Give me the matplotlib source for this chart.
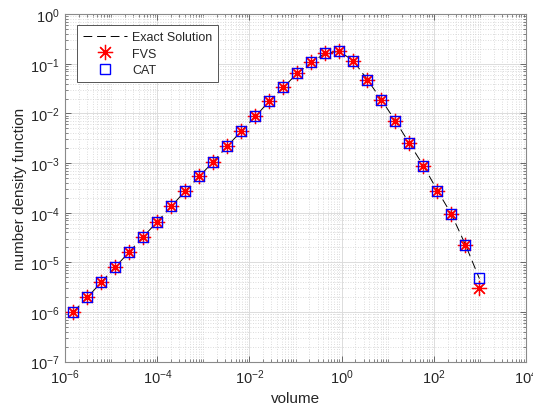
import numpy as np
import matplotlib
matplotlib.use("Agg")
import matplotlib.pyplot as plt
from matplotlib.ticker import LogLocator, NullFormatter, FixedLocator

plt.rcParams['font.family'] = ['Liberation Sans', 'DejaVu Sans']
plt.rcParams['mathtext.fontset'] = 'custom'
plt.rcParams['mathtext.rm'] = 'Liberation Sans'
plt.rcParams['mathtext.it'] = 'Liberation Sans'
plt.rcParams['mathtext.default'] = 'regular'

# ---- data ----
volume = [1.49e-6, 3.01e-6, 6.05e-6, 1.22e-5, 2.45e-5, 4.94e-5, 9.97e-5,
          2.01e-4, 4.04e-4, 8.15e-4, 1.64e-3, 3.30e-3, 6.65e-3, 1.34e-2,
          2.70e-2, 5.43e-2, 0.110, 0.221, 0.445, 0.895, 1.80, 3.63, 7.31,
          14.7, 29.6, 59.7, 120.0, 243.0, 489.0, 984.0]

exact = [1.0e-6, 1.97e-6, 3.98e-6, 8.1e-6, 1.62e-5, 3.3e-5, 6.6e-5,
         1.35e-4, 2.75e-4, 5.4e-4, 1.07e-3, 2.2e-3, 4.4e-3, 8.7e-3,
         1.78e-2, 3.34e-2, 6.5e-2, 0.107, 0.164, 0.178, 0.115, 0.048,
         0.0188, 7.1e-3, 2.5e-3, 8.9e-4, 2.8e-4, 9.3e-5, 2.26e-5, 4.7e-6]

fvs = [1.0e-6, 1.97e-6, 3.98e-6, 8.1e-6, 1.62e-5, 3.3e-5, 6.6e-5,
       1.35e-4, 2.75e-4, 5.4e-4, 1.07e-3, 2.2e-3, 4.4e-3, 8.7e-3,
       1.78e-2, 3.34e-2, 6.5e-2, 0.107, 0.164, 0.178, 0.115, 0.048,
       0.0188, 7.1e-3, 2.5e-3, 8.9e-4, 2.8e-4, 9.3e-5, 2.26e-5, 3.0e-6]

cat = [1.0e-6, 1.97e-6, 3.98e-6, 8.1e-6, 1.62e-5, 3.3e-5, 6.6e-5,
       1.35e-4, 2.75e-4, 5.4e-4, 1.07e-3, 2.2e-3, 4.4e-3, 8.7e-3,
       1.78e-2, 3.34e-2, 6.5e-2, 0.107, 0.164, 0.178, 0.115, 0.048,
       0.0188, 7.1e-3, 2.5e-3, 8.9e-4, 2.8e-4, 9.3e-5, 2.26e-5, 4.8e-6]

xticks = [1e-6, 1e-4, 1e-2, 1e0, 1e2, 1e4]
xticklabels = ['$10^{-6}$', '$10^{-4}$', '$10^{-2}$', '$10^{0}$', '$10^{2}$', '$10^{4}$']
yticks = [1e-7, 1e-6, 1e-5, 1e-4, 1e-3, 1e-2, 1e-1, 1e0]
yticklabels = ['$10^{-7}$', '$10^{-6}$', '$10^{-5}$', '$10^{-4}$', '$10^{-3}$',
               '$10^{-2}$', '$10^{-1}$', '$10^{0}$']

fig = plt.figure(figsize=(5.33, 4.10), dpi=100)
ax = fig.add_axes([0.1225, 0.1155, 0.864, 0.8475])

ax.set_xscale('log')
ax.set_yscale('log')

ax.plot(volume, exact, color='black', lw=0.7, linestyle=(0, (9, 5)),
        label='Exact Solution', zorder=3)
ax.plot(volume, fvs, linestyle='none', marker=(8, 2, 0), markersize=11,
        markeredgecolor='red', markeredgewidth=0.9, color='red',
        label='FVS', zorder=4)
ax.plot(volume, cat, linestyle='none', marker='s', markersize=7.5,
        markerfacecolor='none', markeredgecolor='blue', markeredgewidth=1.0,
        label='CAT', zorder=5)

ax.set_xlim(1e-6, 1e4)
ax.set_ylim(1e-7, 1e0)

ax.xaxis.set_major_locator(FixedLocator(xticks))
ax.set_xticklabels(xticklabels)
ax.yaxis.set_major_locator(FixedLocator(yticks))
ax.set_yticklabels(yticklabels)
ax.xaxis.set_minor_locator(LogLocator(base=10, subs=np.arange(1, 10), numticks=100))
ax.yaxis.set_minor_locator(LogLocator(base=10, subs=np.arange(1, 10), numticks=100))
ax.xaxis.set_minor_formatter(NullFormatter())
ax.yaxis.set_minor_formatter(NullFormatter())

ax.grid(True, which='major', color='#dcdcdc', lw=0.7, linestyle='-')
ax.grid(True, which='minor', color='#d0d0d0', lw=0.6, linestyle=(0, (1, 2)))
ax.set_axisbelow(True)

ax.tick_params(which='both', direction='in', top=True, right=True,
               colors='#555555', labelcolor='#262626', labelsize=10.5)
ax.tick_params(which='major', length=4, width=0.6, pad=4)
ax.tick_params(which='minor', length=2, width=0.5)
for s in ax.spines.values():
    s.set_color('#8a8a8a')
    s.set_linewidth(0.8)

ax.set_xlabel('volume', fontsize=11, color='#262626', labelpad=4)
ax.set_ylabel('number density function', fontsize=11, color='#262626', labelpad=2)

leg = ax.legend(loc='upper left', bbox_to_anchor=(0.026, 0.968), fontsize=9,
                handlelength=3.5, frameon=True, fancybox=False,
                edgecolor='#555555', framealpha=1, borderpad=0.45,
                labelspacing=0.38, handletextpad=0.45, borderaxespad=0)
leg.get_frame().set_linewidth(0.7)
for t in leg.get_texts():
    t.set_color('#262626')

fig.savefig('out.png', dpi=100)
